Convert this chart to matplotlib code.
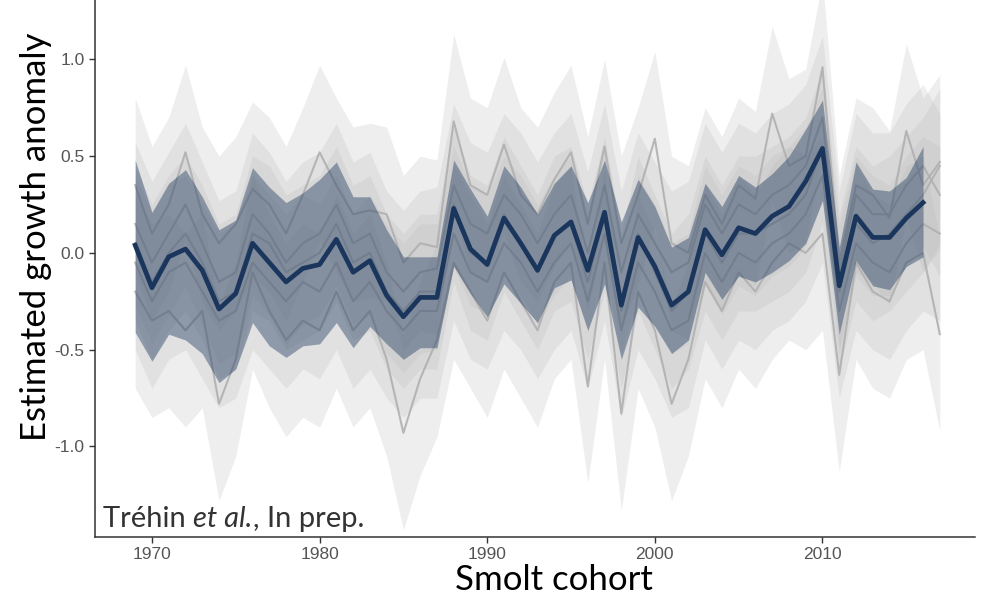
import matplotlib
matplotlib.use("Agg")
import matplotlib.pyplot as plt
import numpy as np

# cohort years
years = list(range(1969, 2018))          # population series, 1969-2017
years_common = list(range(1969, 2017))   # common trend, 1969-2016

# common growth anomaly with its interval
common_mean = [0.04, -0.18, -0.02, 0.02, -0.09, -0.29, -0.21, 0.05, -0.05, -0.15,
               -0.08, -0.06, 0.07, -0.10, -0.04, -0.22, -0.33, -0.23, -0.23, 0.23,
               0.02, -0.06, 0.18, 0.05, -0.09, 0.09, 0.16, -0.09, 0.21, -0.27,
               0.08, -0.07, -0.27, -0.20, 0.12, -0.01, 0.13, 0.10, 0.19, 0.24,
               0.37, 0.54, -0.17, 0.19, 0.08, 0.08, 0.18, 0.26]
common_upper = [0.48, 0.21, 0.36, 0.43, 0.29, 0.12, 0.17, 0.44, 0.34, 0.26,
                0.31, 0.38, 0.47, 0.29, 0.29, 0.12, -0.02, -0.02, -0.02, 0.48,
                0.33, 0.19, 0.45, 0.34, 0.20, 0.36, 0.45, 0.26, 0.48, 0.16,
                0.38, 0.24, 0.03, 0.08, 0.36, 0.24, 0.40, 0.34, 0.41, 0.50,
                0.64, 0.79, 0.03, 0.47, 0.33, 0.32, 0.39, 0.55]
common_lower = [-0.41, -0.56, -0.42, -0.45, -0.52, -0.67, -0.60, -0.36, -0.48, -0.54,
                -0.48, -0.47, -0.36, -0.49, -0.38, -0.47, -0.55, -0.49, -0.49, -0.07,
                -0.21, -0.33, -0.16, -0.26, -0.36, -0.18, -0.14, -0.40, -0.16, -0.55,
                -0.28, -0.38, -0.52, -0.45, -0.10, -0.24, -0.12, -0.15, -0.10, -0.04,
                0.05, 0.27, -0.42, -0.04, -0.17, -0.19, -0.07, -0.02]

# population-level anomalies
pop_a = [0.35, 0.10, 0.25, 0.52, 0.20, 0.05, 0.15, 0.33, 0.25, 0.10,
         0.30, 0.52, 0.35, 0.20, 0.22, 0.20, -0.05, 0.05, 0.03, 0.68,
         0.35, 0.30, 0.56, 0.30, 0.20, 0.38, 0.52, 0.15, 0.55, 0.05,
         0.30, 0.59, 0.05, 0.00, 0.30, 0.15, 0.35, 0.28, 0.72, 0.45,
         0.50, 0.96, -0.05, 0.35, 0.30, 0.18, 0.63, 0.35, 0.47]
pop_b = [-0.20, -0.35, -0.30, -0.40, -0.30, -0.78, -0.55, -0.10, -0.30, -0.45,
         -0.35, -0.40, -0.20, -0.40, -0.30, -0.55, -0.93, -0.65, -0.45, -0.05,
         -0.20, -0.35, -0.10, -0.25, -0.40, -0.15, -0.05, -0.69, -0.05, -0.83,
         -0.20, -0.40, -0.78, -0.55, -0.15, -0.30, -0.10, -0.20, -0.05, 0.05,
         0.00, 0.10, -0.63, -0.05, -0.20, -0.25, -0.05, 0.00, -0.42]
pop_c = [0.15, -0.05, 0.10, 0.25, 0.05, -0.15, -0.10, 0.20, 0.10, -0.05,
         0.05, 0.10, 0.25, 0.05, 0.10, -0.10, -0.20, -0.10, -0.08, 0.35,
         0.15, 0.10, 0.30, 0.20, 0.05, 0.20, 0.30, 0.00, 0.35, -0.10,
         0.20, 0.05, -0.10, -0.05, 0.25, 0.10, 0.25, 0.20, 0.30, 0.35,
         0.45, 0.70, -0.10, 0.30, 0.20, 0.20, 0.35, 0.45, 0.30]
pop_d = [-0.05, -0.25, -0.10, -0.05, -0.20, -0.35, -0.30, -0.05, -0.15, -0.25,
         -0.15, -0.20, -0.05, -0.25, -0.15, -0.30, -0.40, -0.30, -0.30, 0.10,
         -0.10, -0.15, 0.05, -0.05, -0.20, -0.05, 0.05, -0.25, 0.10, -0.40,
         -0.05, -0.20, -0.40, -0.35, 0.00, -0.15, 0.00, -0.05, 0.05, 0.10,
         0.20, 0.40, -0.30, 0.05, -0.05, -0.10, 0.05, 0.15, 0.10]
pop_e = [0.05, -0.15, 0.00, 0.10, -0.05, -0.25, -0.20, 0.10, 0.05, -0.10,
         -0.05, 0.00, 0.15, -0.05, 0.00, -0.20, -0.30, -0.20, -0.20, 0.25,
         0.00, -0.05, 0.20, 0.05, -0.10, 0.10, 0.15, -0.15, 0.20, -0.30,
         0.10, -0.10, -0.30, -0.20, 0.10, -0.05, 0.10, 0.10, 0.15, 0.20,
         0.30, 0.55, -0.20, 0.15, 0.05, 0.10, 0.20, 0.30, 0.45]
populations = [pop_a, pop_b, pop_c, pop_d, pop_e]
pop_halfwidth = [0.45, 0.50, 0.42, 0.45, 0.40]

plt.rcParams['font.family'] = ['Liberation Sans', 'DejaVu Sans']

fig = plt.figure(figsize=(9.81, 5.96), dpi=100)
ax = fig.add_axes([0.0968, 0.099, 0.8971, 0.901])

# population ribbons and lines sit under the common trend
for series, hw in zip(populations, pop_halfwidth):
    s = np.array(series)
    ax.fill_between(years, s - hw, s + hw, color='#bcbcbc', alpha=0.25, lw=0, zorder=1)
for series in populations:
    ax.plot(years, series, color='#b0b0b0', lw=1.5, alpha=0.9, zorder=2)

ax.fill_between(years_common, common_lower, common_upper, color='#1b365d', alpha=0.42,
                lw=0, zorder=3)
ax.plot(years_common, common_mean, color='#1b365d', lw=3.4, zorder=4)

ax.set_xlim(1966.6, 2019.1)
ax.set_ylim(-1.468, 1.307)
ax.set_xticks([1970, 1980, 1990, 2000, 2010])
ax.set_yticks([-1.0, -0.5, 0.0, 0.5, 1.0])
ax.set_yticklabels(['-1.0', '-0.5', '0.0', '0.5', '1.0'])

for side in ['top', 'right']:
    ax.spines[side].set_visible(False)
for side in ['left', 'bottom']:
    ax.spines[side].set_color('#333333')
    ax.spines[side].set_linewidth(1.1)
ax.tick_params(length=4, width=1, color='#333333', labelcolor='#555555', labelsize=12.5)

label_font = dict(family=['Lato', 'DejaVu Sans'], color='black', fontsize=25)
fig.text(554 / 981, 1 - 590 / 596, 'Smolt cohort', ha='center', va='baseline', **label_font)
fig.text(36 / 981, 1 - 237 / 596, 'Estimated growth anomaly', rotation=90,
         ha='center', va='center', **label_font)

note_font = dict(family=['Lato', 'DejaVu Sans'], color='#333333', fontsize=21)
t1 = ax.text(0.009, 0.01, 'Tréhin ', transform=ax.transAxes, va='bottom', ha='left', **note_font)
t2 = ax.annotate('et al.', xy=(1, 0), xycoords=t1, va='bottom', ha='left', style='italic', **note_font)
ax.annotate(', In prep.', xy=(1, 0), xycoords=t2, va='bottom', ha='left', **note_font)

fig.savefig('out.png', dpi=100)
